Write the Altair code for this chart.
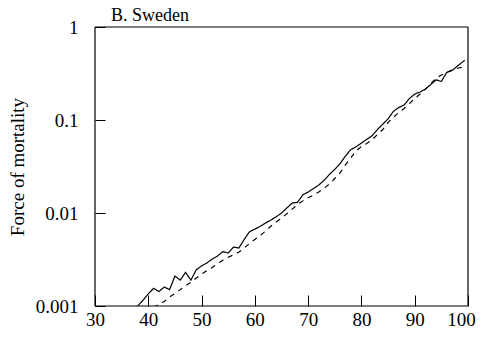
import altair as alt
import pandas as pd

solid_ages = list(range(37, 99)) + [99.4]
solid_vals = [0.00090, 0.00100, 0.00115, 0.00135, 0.00155, 0.00143, 0.00160, 0.00150,
              0.00210, 0.00190, 0.00230, 0.00190, 0.00245, 0.00270, 0.00290, 0.00320,
              0.00345, 0.00385, 0.00370, 0.00430, 0.00420, 0.00520, 0.00630, 0.00670,
              0.00720, 0.00780, 0.00840, 0.00910, 0.01000, 0.01130, 0.01280, 0.01300,
              0.01570, 0.01680, 0.01830, 0.02000, 0.02250, 0.02600, 0.02950, 0.03400,
              0.04100, 0.04800, 0.05150, 0.05650, 0.06200, 0.06750, 0.07900, 0.09000,
              0.10300, 0.12400, 0.13600, 0.14500, 0.17000, 0.19000, 0.20000, 0.21500,
              0.24000, 0.27000, 0.26000, 0.32500, 0.34000, 0.38000, 0.44000, 0.41000]

dashed_ages = list(range(41, 100))
dashed_vals = [0.00095, 0.00105, 0.00112, 0.00125, 0.00136, 0.00150, 0.00165, 0.00180,
               0.00200, 0.00220, 0.00240, 0.00260, 0.00285, 0.00310, 0.00335, 0.00355,
               0.00380, 0.00420, 0.00470, 0.00520, 0.00570, 0.00640, 0.00720, 0.00800,
               0.00880, 0.00980, 0.01100, 0.01230, 0.01350, 0.01460, 0.01560, 0.01680,
               0.01850, 0.02050, 0.02350, 0.02700, 0.03300, 0.03900, 0.04650, 0.05200,
               0.05600, 0.06100, 0.07000, 0.07900, 0.09400, 0.10700, 0.12000, 0.13300,
               0.15000, 0.17000, 0.19000, 0.21500, 0.24500, 0.28000, 0.30500, 0.32500,
               0.34500, 0.36000, 0.37000]

x_ticks = [30, 40, 50, 60, 70, 80, 90, 100]
y_ticks = [0.001, 0.01, 0.1, 1]
x_edges = [30, 100]
y_edges = [0.001, 1]

rows = []
for a, v in zip(solid_ages, solid_vals):
    rows.append({"age": a, "value": v, "series": "solid"})
for a, v in zip(dashed_ages, dashed_vals):
    rows.append({"age": a, "value": v, "series": "dashed"})
df = pd.DataFrame(rows)

FONT = "Liberation Serif"
W, H = 373, 279

xscale = alt.Scale(domain=[30, 100], nice=False, zero=False)
yscale = alt.Scale(type="log", domain=[0.001, 1], nice=False)

lines = alt.Chart(df).mark_line(clip=True, color="black", strokeWidth=1.2).encode(
    x=alt.X("age:Q", scale=xscale,
            axis=alt.Axis(values=x_ticks, title=None, grid=False, domain=False,
                          offset=-11, tickSize=11, tickColor="black", tickWidth=1,
                          labelPadding=4, labelFontSize=19, labelFont=FONT,
                          labelColor="black", labelFlush=False,
                          labelOffset={"condition": {"test": "datum.value == 100",
                                                     "value": -7},
                                       "value": 0})),
    y=alt.Y("value:Q", scale=yscale,
            axis=alt.Axis(values=y_ticks, format="~g", title="Force of mortality",
                          grid=False, domain=False, offset=-10, tickSize=10,
                          tickColor="black", tickWidth=1, labelPadding=17,
                          labelFontSize=19, labelFont=FONT, labelColor="black",
                          labelFlush=False,
                          titleFont=FONT, titleFontSize=19, titleFontWeight="normal",
                          titleColor="black", titlePadding=8)),
    strokeDash=alt.StrokeDash("series:N",
                              scale=alt.Scale(domain=["solid", "dashed"],
                                              range=[[1, 0], [5, 5]]),
                              legend=None),
    detail="series:N",
)

vrules = alt.Chart(pd.DataFrame({"age": x_edges})).mark_rule(
    color="black", strokeWidth=1.2).encode(x=alt.X("age:Q", scale=xscale))
hrules = alt.Chart(pd.DataFrame({"value": y_edges})).mark_rule(
    color="black", strokeWidth=1.2).encode(y=alt.Y("value:Q", scale=yscale))

chart = alt.layer(lines, vrules, hrules).properties(
    width=W,
    height=H,
    title=alt.TitleParams("B. Sweden", anchor="start", frame="group", dx=16, dy=12,
                          fontSize=18, font=FONT, fontWeight="normal",
                          color="black", offset=5, baseline="top"),
    autosize="none",
    padding={"left": 87, "top": 19, "right": 9, "bottom": 30},
).configure(
    background="white", font=FONT
).configure_view(
    stroke=None
)

chart.save("out.html", embed_options={"renderer": "svg", "actions": False})
